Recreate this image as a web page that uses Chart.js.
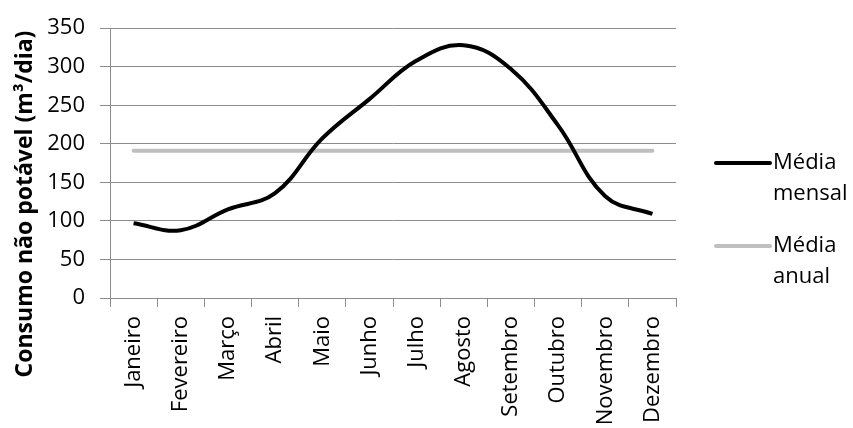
<!DOCTYPE html>
<html>
<head>
<meta charset="utf-8">
<script src="https://cdn.jsdelivr.net/npm/chart.js@4"></script>
<style>
  html, body { margin: 0; padding: 0; background: #fff; }
  #wrap { width: 853px; height: 428px; }
</style>
</head>
<body>
<div id="wrap"><canvas id="lineChart" width="853" height="428"></canvas></div>
<script>
const meses = ["Janeiro", "Fevereiro", "Março", "Abril", "Maio", "Junho", "Julho", "Agosto", "Setembro", "Outubro", "Novembro", "Dezembro"];
const mediaMensal = [97, 88, 115, 136, 207, 258, 308, 328, 297, 224, 132, 109];
const mediaAnual = [191, 191, 191, 191, 191, 191, 191, 191, 191, 191, 191, 191];
const yTicks = [0, 50, 100, 150, 200, 250, 300, 350];

const FONT = "'Open Sans', 'Noto Sans', sans-serif";
const GRID = "#8c8c8c";

/* legend at the right with two-line labels, plus the y title placed like the original */
const sideLegend = {
    id: "sideLegend",
    afterDraw(chart) {
        const ctx = chart.ctx;
        const items = [
            { color: "#000000", lines: ["Média", "mensal"], y: 163 },
            { color: "#bfbfbf", lines: ["Média", "anual"], y: 246 }
        ];
        ctx.save();
        ctx.font = "22px " + FONT;
        ctx.textBaseline = "middle";
        ctx.fillStyle = "#000";
        items.forEach(it => {
            ctx.strokeStyle = it.color;
            ctx.lineWidth = 4;
            ctx.lineCap = "round";
            ctx.beginPath();
            ctx.moveTo(716, it.y);
            ctx.lineTo(770, it.y);
            ctx.stroke();
            ctx.fillText(it.lines[0], 773, it.y);
            ctx.fillText(it.lines[1], 773, it.y + 31);
        });

        // y axis title
        ctx.translate(25, 204);
        ctx.rotate(-Math.PI / 2);
        ctx.textAlign = "center";
        ctx.font = "bold 23px " + FONT;
        ctx.fillText("Consumo não potável (m³/dia)", 0, 0);
        ctx.restore();
    }
};

new Chart(document.getElementById("lineChart"), {
    type: "line",
    data: {
        labels: meses,
        datasets: [{
            label: "Média mensal",
            data: mediaMensal,
            borderColor: "#000000",
            borderWidth: 4,
            tension: 0.4,
            pointRadius: 0,
            fill: false,
            order: 1
        }, {
            label: "Média anual",
            data: mediaAnual,
            borderColor: "#bfbfbf",
            borderWidth: 4,
            borderCapStyle: "round",
            pointRadius: 0,
            fill: false,
            order: 2
        }]
    },
    options: {
        responsive: false,
        animation: false,
        layout: { padding: { top: 25, right: 177, left: 0, bottom: 0 } },
        plugins: { legend: { display: false }, tooltip: { enabled: false } },
        scales: {
            x: {
                offset: true,
                grid: { offset: true, drawOnChartArea: false, color: GRID, tickLength: 9 },
                border: { color: GRID },
                ticks: { color: "#000", font: { family: FONT, size: 22 }, maxRotation: 90, minRotation: 90, padding: 9 },
                afterFit(scale) { scale.height = 130; }
            },
            y: {
                min: 0,
                max: 350,
                afterBuildTicks(scale) { scale.ticks = yTicks.map(v => ({ value: v })); },
                grid: { color: GRID, tickLength: 10 },
                border: { color: GRID },
                ticks: { color: "#000", font: { family: FONT, size: 22 }, padding: 15 },
                afterFit(scale) { scale.width = 110; }
            }
        }
    },
    plugins: [sideLegend]
});
</script>
</body>
</html>
